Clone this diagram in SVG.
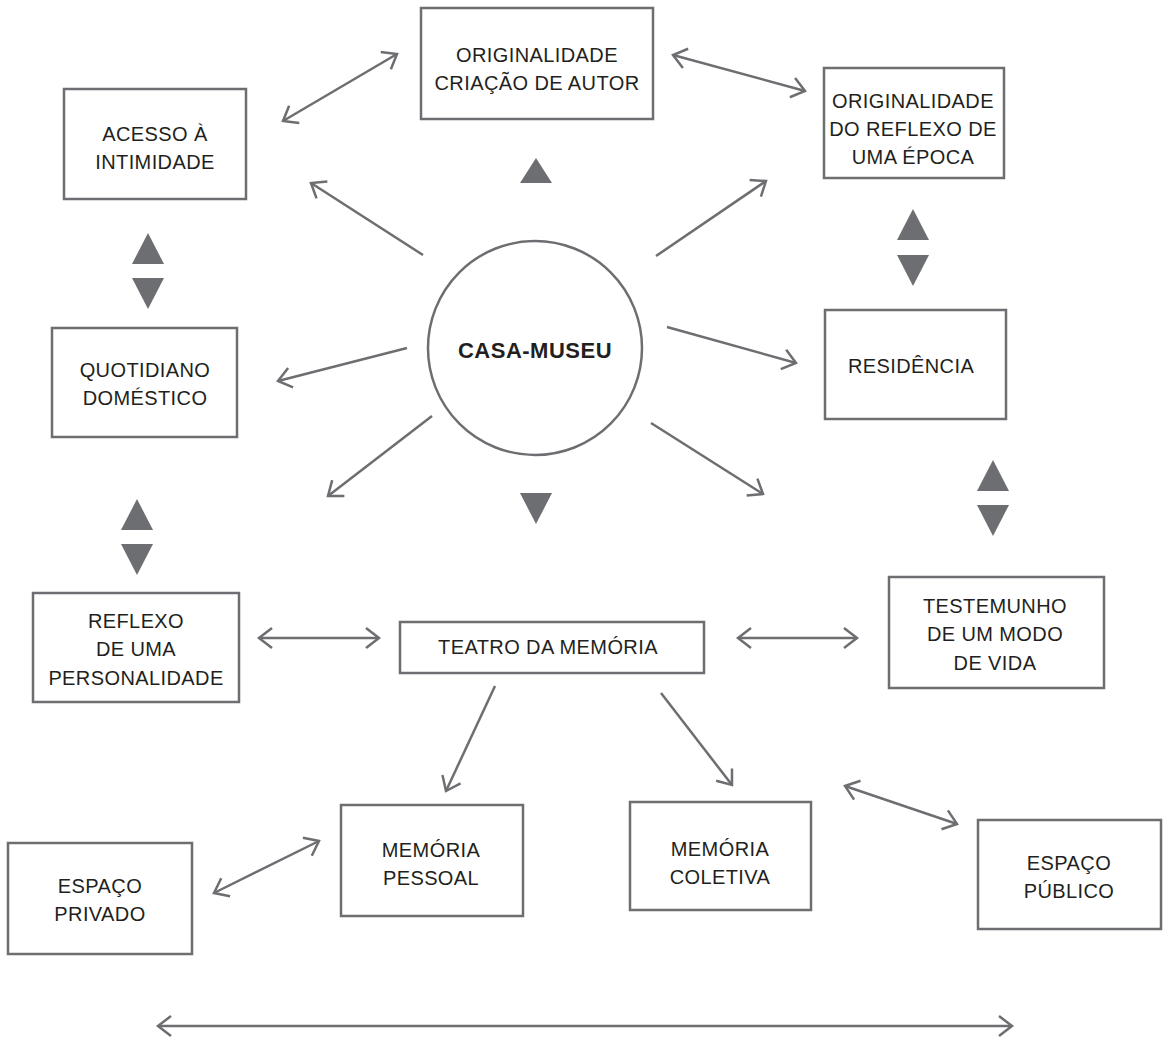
<svg xmlns="http://www.w3.org/2000/svg" width="1168" height="1038" viewBox="0 0 1168 1038">
<style>
.box{fill:#fff;stroke:#6d6e71;stroke-width:2.5}
.t{font-family:"Liberation Sans",Arial,sans-serif;font-size:20px;fill:#231f20;text-anchor:middle;letter-spacing:0.4px}
.b{font-weight:bold;font-size:22px;letter-spacing:0.5px}
.c{fill:none;stroke:#6d6e71;stroke-width:2.5}
.tri{fill:#6d6e71}
</style>
<defs>
<marker id="ah" markerUnits="userSpaceOnUse" markerWidth="18" markerHeight="26" viewBox="0 0 18 26" refX="15" refY="13" orient="auto-start-reverse">
<path d="M2,3 L15,13 L2,23" fill="none" stroke="#6d6e71" stroke-width="2.5"/>
</marker>
</defs>
<rect width="1168" height="1038" fill="#fff"/>
<g id="connectors">
<line class="c" x1="283" y1="121" x2="397" y2="54" marker-start="url(#ah)" marker-end="url(#ah)"/>
<line class="c" x1="673" y1="55" x2="805" y2="91" marker-start="url(#ah)" marker-end="url(#ah)"/>
<line class="c" x1="423" y1="255" x2="311" y2="183" marker-end="url(#ah)"/>
<line class="c" x1="656" y1="256" x2="766" y2="181" marker-end="url(#ah)"/>
<line class="c" x1="407" y1="348" x2="278" y2="381" marker-end="url(#ah)"/>
<line class="c" x1="667" y1="327" x2="796" y2="363" marker-end="url(#ah)"/>
<line class="c" x1="432" y1="416" x2="328" y2="496" marker-end="url(#ah)"/>
<line class="c" x1="651" y1="423" x2="763" y2="494" marker-end="url(#ah)"/>
<line class="c" x1="259" y1="638" x2="379" y2="638" marker-start="url(#ah)" marker-end="url(#ah)"/>
<line class="c" x1="738" y1="638" x2="857" y2="638" marker-start="url(#ah)" marker-end="url(#ah)"/>
<line class="c" x1="495" y1="686" x2="446" y2="791" marker-end="url(#ah)"/>
<line class="c" x1="661" y1="693" x2="732" y2="785" marker-end="url(#ah)"/>
<line class="c" x1="214" y1="893" x2="319" y2="841" marker-start="url(#ah)" marker-end="url(#ah)"/>
<line class="c" x1="845" y1="786" x2="957" y2="824" marker-start="url(#ah)" marker-end="url(#ah)"/>
<line class="c" x1="158" y1="1026" x2="1012" y2="1026" marker-start="url(#ah)" marker-end="url(#ah)"/>
<polygon class="tri" points="536,158 552,183 520,183"/>
<polygon class="tri" points="520,493 552,493 536,524"/>
<polygon class="tri" points="148,233 164,264 132,264"/>
<polygon class="tri" points="132,278 164,278 148,309"/>
<polygon class="tri" points="137,499 153,530 121,530"/>
<polygon class="tri" points="121,544 153,544 137,575"/>
<polygon class="tri" points="913,209 929,240 897,240"/>
<polygon class="tri" points="897,255 929,255 913,286"/>
<polygon class="tri" points="993,460 1009,491 977,491"/>
<polygon class="tri" points="977,505 1009,505 993,536"/>
</g>
<g id="casa-museu">
<circle cx="535" cy="348" r="107" fill="#fff" stroke="#6d6e71" stroke-width="2.5"/>
<text class="t b" x="535" y="358">CASA-MUSEU</text>
</g>
<g id="originalidade-autor">
<rect class="box" x="421" y="8" width="232" height="111"/>
<text class="t" x="537" y="62">ORIGINALIDADE</text>
<text class="t" x="537" y="90">CRIAÇÃO DE AUTOR</text>
</g>
<g id="acesso">
<rect class="box" x="64" y="89" width="182" height="110"/>
<text class="t" x="155" y="141">ACESSO À</text>
<text class="t" x="155" y="169">INTIMIDADE</text>
</g>
<g id="originalidade-epoca">
<rect class="box" x="824" y="68" width="180" height="110"/>
<text class="t" x="913" y="108">ORIGINALIDADE</text>
<text class="t" x="913" y="136">DO REFLEXO DE</text>
<text class="t" x="913" y="164">UMA ÉPOCA</text>
</g>
<g id="quotidiano">
<rect class="box" x="52" y="328" width="185" height="109"/>
<text class="t" x="145" y="377">QUOTIDIANO</text>
<text class="t" x="145" y="405">DOMÉSTICO</text>
</g>
<g id="residencia">
<rect class="box" x="825" y="310" width="181" height="109"/>
<text class="t" x="911" y="373">RESIDÊNCIA</text>
</g>
<g id="reflexo-personalidade">
<rect class="box" x="33" y="593" width="206" height="109"/>
<text class="t" x="136" y="628">REFLEXO</text>
<text class="t" x="136" y="656">DE UMA</text>
<text class="t" x="136" y="685">PERSONALIDADE</text>
</g>
<g id="teatro">
<rect class="box" x="400" y="622" width="304" height="51"/>
<text class="t" x="548" y="654">TEATRO DA MEMÓRIA</text>
</g>
<g id="testemunho">
<rect class="box" x="889" y="577" width="215" height="111"/>
<text class="t" x="995" y="613">TESTEMUNHO</text>
<text class="t" x="995" y="641">DE UM MODO</text>
<text class="t" x="995" y="670">DE VIDA</text>
</g>
<g id="memoria-pessoal">
<rect class="box" x="341" y="805" width="182" height="111"/>
<text class="t" x="431" y="857">MEMÓRIA</text>
<text class="t" x="431" y="885">PESSOAL</text>
</g>
<g id="memoria-coletiva">
<rect class="box" x="630" y="802" width="181" height="108"/>
<text class="t" x="720" y="856">MEMÓRIA</text>
<text class="t" x="720" y="884">COLETIVA</text>
</g>
<g id="espaco-privado">
<rect class="box" x="8" y="843" width="184" height="111"/>
<text class="t" x="100" y="893">ESPAÇO</text>
<text class="t" x="100" y="921">PRIVADO</text>
</g>
<g id="espaco-publico">
<rect class="box" x="978" y="820" width="183" height="109"/>
<text class="t" x="1069" y="870">ESPAÇO</text>
<text class="t" x="1069" y="898">PÚBLICO</text>
</g>
</svg>
